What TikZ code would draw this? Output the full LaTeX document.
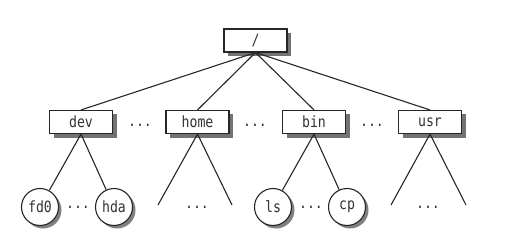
\documentclass[tikz,border=0pt]{standalone}
\usepackage{fontspec}
\setmonofont[FakeStretch=0.85]{DejaVu Sans Mono}
\tikzset{
  edge/.style={draw=black!85, line width=1.1pt},
  dirbox/.style={draw=black!85, line width=1.1pt, fill=white, rectangle, minimum width=63pt, minimum height=23pt, inner sep=0pt,
    font=\ttfamily\fontsize{15.5}{15.5}\selectfont, text=black!80},
  filecirc/.style={draw=black!85, line width=1.1pt, fill=white, circle, minimum size=37pt, inner sep=0pt,
    font=\ttfamily\fontsize{15.5}{15.5}\selectfont, text=black!80},
  dots/.style={font=\ttfamily\fontsize{15.5}{15.5}\selectfont, text=black!80, inner sep=0pt},
  shadebox/.style={fill=black!55, draw=none, minimum width=63pt, minimum height=23pt, inner sep=0pt, rectangle},
  shadecirc/.style={fill=black!50, draw=none, minimum size=37pt, inner sep=0pt, circle}
}
\begin{document}
\begin{tikzpicture}[x=1pt,y=1pt]
\useasboundingbox (0,0) rectangle (526,249);
% shadows first
\node[shadebox] (sroot) at (259.5,204.5) {};
\node[shadebox] (sdev) at (85,123) {};
\node[shadebox] (shome) at (201.5,123) {};
\node[shadebox] (sbin) at (318,123) {};
\node[shadebox] (susr) at (434,123) {};
\node[shadecirc] (sfd0) at (43,39) {};
\node[shadecirc] (shda) at (117,39) {};
\node[shadecirc] (sls) at (276,39) {};
\node[shadecirc] (scp) at (350,39) {};
% nodes
\node[dirbox] (root) at (255.5,208.5) {/};
\node[dirbox] (dev) at (81,127) {dev};
\node[dirbox] (home) at (197.5,127) {home};
\node[dirbox] (bin) at (314,127) {bin};
\node[dirbox] (usr) at (430,127) {usr};
\node[dots] (d1) at (140,124) {...};
\node[dots] (d2) at (255,124) {...};
\node[dots] (d3) at (372,124) {...};
\node[filecirc] (fd0) at (40,42) {fd0};
\node[filecirc] (hda) at (114,42) {hda};
\node[filecirc] (ls) at (273,42) {ls};
\node[filecirc] (cp) at (347,42) {cp};
\node[dots] (d4) at (78,42) {...};
\node[dots] (d5) at (311,42) {...};
\node[dots] (d6) at (197,42) {...};
\node[dots] (d7) at (428,42) {...};
\coordinate (hl) at (158,44);
\coordinate (hr) at (232,44);
\coordinate (ul) at (391,44);
\coordinate (ur) at (466,44);
\draw[edge] (root.south) -- (dev.north);
\draw[edge] (root.south) -- (home.north);
\draw[edge] (root.south) -- (bin.north);
\draw[edge] (root.south) -- (usr.north);
\draw[edge] (dev.south) -- (fd0);
\draw[edge] (dev.south) -- (hda);
\draw[edge] (home.south) -- (hl);
\draw[edge] (home.south) -- (hr);
\draw[edge] (bin.south) -- (ls);
\draw[edge] (bin.south) -- (cp);
\draw[edge] (usr.south) -- (ul);
\draw[edge] (usr.south) -- (ur);
\end{tikzpicture}
\end{document}
